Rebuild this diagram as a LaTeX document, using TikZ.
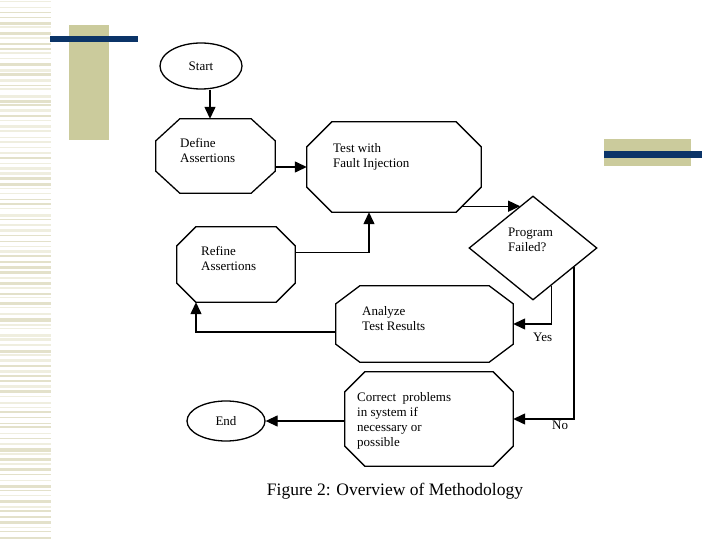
\documentclass[tikz,border=0pt]{standalone}
\usepackage{fontspec}
\setmainfont{Liberation Serif}
\usetikzlibrary{arrows.meta,shapes.geometric,calc}
\definecolor{navy}{HTML}{0B3468}
\definecolor{khaki}{HTML}{CBCB9C}
\definecolor{stripe}{HTML}{E3E1CA}
\definecolor{stripelt}{HTML}{EFEEDF}
\newcommand\octo[3]{\draw[flow] ([xshift=#2]#1.north west) -- ([xshift=-#2]#1.north east) -- ([yshift=-#3]#1.north east) -- ([yshift=#3]#1.south east) -- ([xshift=-#2]#1.south east) -- ([xshift=#2]#1.south west) -- ([yshift=#3]#1.south west) -- ([yshift=-#3]#1.north west) -- cycle;}
\begin{document}
\begin{tikzpicture}[x=1pt,y=-1pt,
  flow/.style={line width=1.3pt, line join=miter},
  arr/.style={flow, -{Triangle[length=12pt,width=11pt]}},
  box/.style={rectangle, draw=none, inner sep=0pt},
  oval/.style={ellipse, draw, line width=1.3pt, inner sep=0pt, font=\fontsize{13}{15}\selectfont},
  dia/.style={diamond, draw, line width=1.3pt, inner sep=0pt},
  txt/.style={anchor=north west, inner sep=0pt, align=left, font=\fontsize{13}{15}\selectfont},
  lbl/.style={anchor=north west, inner sep=0pt, font=\fontsize{13}{15}\selectfont}]
\useasboundingbox (0,0) rectangle (720,540);
\fill[white] (0,0) rectangle (720,540);
% left stripes
\pgfmathsetseed{12}
\foreach \i in {0,...,104} {
  \pgfmathsetmacro\yy{\i*5.2+rnd*1.5}
  \pgfmathsetmacro\hh{0.8+rnd*2.4}
  \pgfmathsetmacro\cc{rnd}
  \ifdim\cc pt<0.55pt \def\col{stripe}\else\def\col{stripelt}\fi
  \fill[\col] (0,\yy) rectangle (51,\yy+\hh);
}
% decorations
\fill[khaki] (69,25) rectangle (109,140);
\fill[navy] (50,36) rectangle (138,42);
\fill[khaki] (604,139) rectangle (691,166);
\fill[navy] (604,151) rectangle (702,158);
% nodes
\node[oval, minimum width=82pt, minimum height=46pt] (start) at (201,66) {Start};
\node[box, minimum width=119pt, minimum height=74pt] (define) at (215.5,156) {};
\node[box, minimum width=174pt, minimum height=90pt] (test) at (394,167) {};
\node[dia, minimum width=128pt, minimum height=104pt] (pf) at (533,248) {};
\node[box, minimum width=118pt, minimum height=75pt] (refine) at (236,264.5) {};
\node[box, minimum width=177pt, minimum height=76pt] (analyze) at (424.5,324) {};
\node[box, minimum width=168pt, minimum height=94pt] (correct) at (429,419) {};
\node[oval, minimum width=78pt, minimum height=40pt] (end) at (226,421) {End};
\octo{define}{24pt}{22pt}
\octo{test}{25pt}{25pt}
\octo{refine}{19pt}{19pt}
\octo{analyze}{24pt}{18pt}
\octo{correct}{20pt}{20pt}
% texts
\node[txt] (tdef) at (180,138) {Define\\Assertions};
\node[txt] (ttest) at (333,143) {Test with\\Fault Injection};
\node[txt] (tpf) at (508,228) {Program\\Failed?};
\node[txt] (tref) at (201,246) {Refine\\Assertions};
\node[txt] (tana) at (362,306) {Analyze\\Test Results};
\node[txt] (tcor) at (357,392) {Correct\ \ problems\\in system if\\necessary or\\possible};
\node[lbl] (yes) at (533,333) {Yes};
\node[lbl] (no) at (552,421) {No};
\node[font=\fontsize{17.5}{20}\selectfont, inner sep=0pt] (cap) at (395,491) {Figure 2: Overview of Methodology};
% connectors
\draw[arr] ([xshift=9pt]start.south) -- ([xshift=9pt]start.south |- define.north);
\draw[arr] (define.east |- test.west) -- (test.west);
\coordinate (tp) at ([xshift=-19pt,yshift=6pt]test.south east);
\draw[arr] (tp) -- (tp -| pf.107);
\draw[arr] (pf.-64) |- (analyze.east);
\draw[arr] (pf.-25) |- (correct.east);
\draw[arr] ([yshift=12pt]refine.east) -| ([xshift=-25pt]test.south);
\draw[arr] ([yshift=-8pt]analyze.west) -| ([xshift=-40pt]refine.south);
\draw[arr] (correct.west |- end.east) -- (end.east);
\end{tikzpicture}
\end{document}
